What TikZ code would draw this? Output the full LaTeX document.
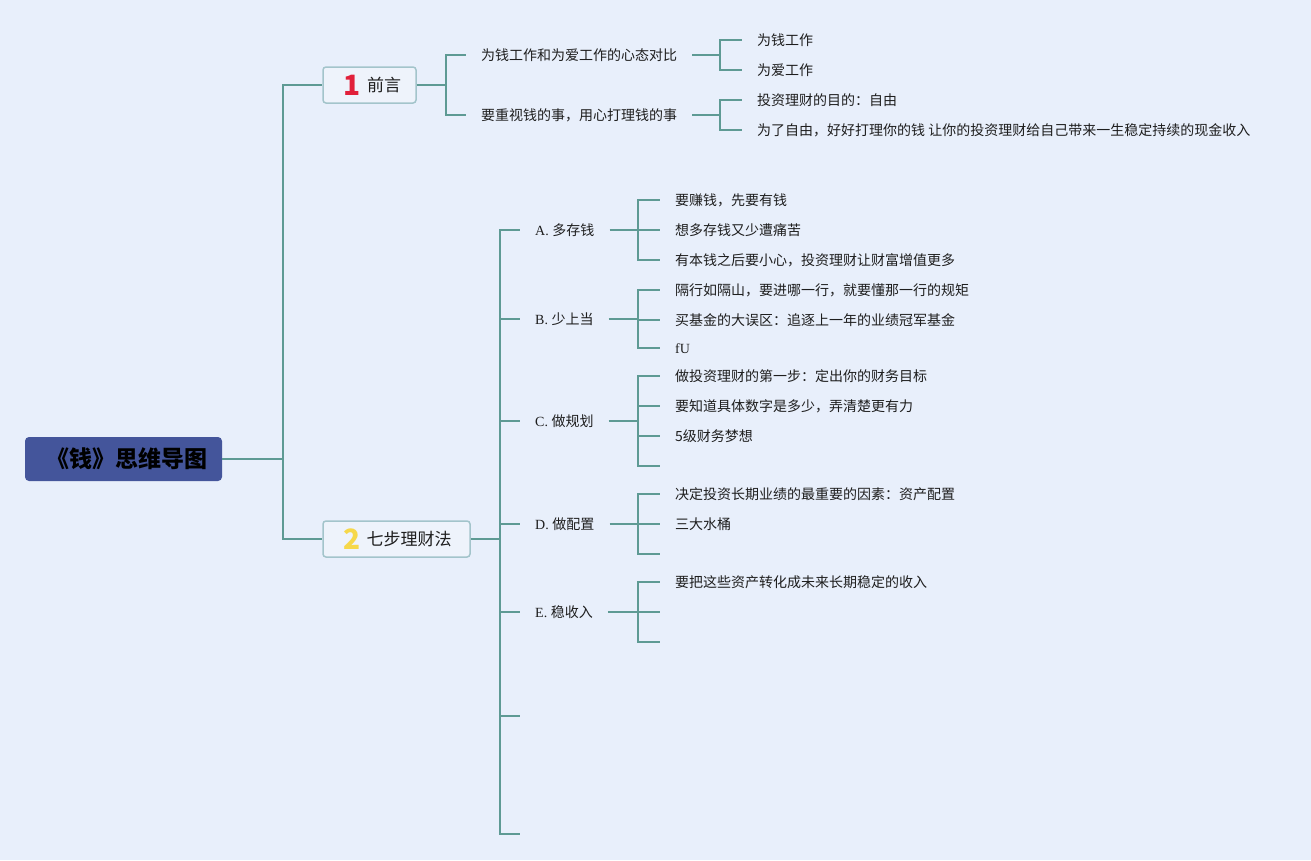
\documentclass[tikz,border=0pt]{standalone}
\usepackage{fontspec}
\setmainfont{Liberation Serif}
\newfontfamily\cjk{Noto Sans CJK SC}
\definecolor{bg}{HTML}{E8EFFB}
\definecolor{ln}{HTML}{5E9A94}
\definecolor{rootc}{HTML}{44559B}
\definecolor{boxb}{HTML}{A3C4CB}
\definecolor{boxf}{HTML}{EEF3FB}
\definecolor{one}{HTML}{E1203A}
\definecolor{two}{HTML}{F6D84A}
\definecolor{tx}{HTML}{1E1E1E}
\begin{document}
\begin{tikzpicture}[x=1pt,y=-1pt,
  conn/.style={draw=ln, line width=2pt},
  txt/.style={anchor=west, inner xsep=15pt, inner ysep=0pt, text height=11.5pt, text depth=0.5pt, font=\cjk\fontsize{14}{16}\selectfont, text=tx},
  lab/.style={txt, font=\fontsize{14}{16}\selectfont},
  rootbox/.style={fill=rootc, rounded corners=4pt, minimum width=197pt, minimum height=44pt, inner sep=0pt, font=\cjk\bfseries\fontsize{23}{25}\selectfont, text=black},
  nbox/.style={draw=boxb, line width=1.5pt, fill=boxf, rounded corners=3pt, minimum height=36pt, inner sep=0pt, text height=13pt, text depth=0pt, font=\cjk\fontsize{17}{19}\selectfont, text=tx}
]
\fill[bg] (0,0) rectangle (1311,860);
\useasboundingbox (0,0) rectangle (1311,860);

% root
\node[rootbox] (root) at (123.5,459) {\hspace{7pt}《钱》思维导图};
\coordinate (j0) at (283,459);

% main branches
\node[nbox, minimum width=93pt] (n1) at (369.5,85) {\hspace{6pt}\raisebox{-3.5pt}{\bfseries\fontsize{28}{28}\selectfont\color{one}1}\hspace{6pt}前言};
\node[nbox, minimum width=147pt] (n2) at (396.5,539) {\hspace{2pt}\raisebox{-3.5pt}{\bfseries\fontsize{28}{28}\selectfont\color{two}2}\hspace{6pt}七步理财法};

\draw[conn] (root.east) -- (j0);
\draw[conn] (j0) |- (n1.west);
\draw[conn] (j0) |- (n2.west);

% branch 1
\coordinate (j1) at (446,85);
\node[txt] (a1) at (466,55) {为钱工作和为爱工作的心态对比};
\node[txt] (a2) at (466,115) {要重视钱的事，用心打理钱的事};
\draw[conn] (n1.east) -- (j1);
\draw[conn] (j1) |- (a1.west);
\draw[conn] (j1) |- (a2.west);

\coordinate (j11) at (720,55);
\node[txt] (a11) at (742,40) {为钱工作};
\node[txt] (a12) at (742,70) {为爱工作};
\draw[conn] (a1.east) -- (j11);
\draw[conn] (j11) |- (a11.west);
\draw[conn] (j11) |- (a12.west);

\coordinate (j12) at (720,115);
\node[txt] (a21) at (742,100) {投资理财的目的：自由};
\node[txt] (a22) at (742,130) {为了自由，好好打理你的钱 让你的投资理财给自己带来一生稳定持续的现金收入};
\draw[conn] (a2.east) -- (j12);
\draw[conn] (j12) |- (a21.west);
\draw[conn] (j12) |- (a22.west);

% branch 2
\coordinate (j2) at (500,539);
\draw[conn] (n2.east) -- (j2);
\node[lab] (bA) at (520,230) {A. {\cjk 多存钱}};
\node[lab] (bB) at (520,319) {B. {\cjk 少上当}};
\node[lab] (bC) at (520,421) {C. {\cjk 做规划}};
\node[lab] (bD) at (520,524) {D. {\cjk 做配置}};
\node[lab] (bE) at (520,612) {E. {\cjk 稳收入}};
\coordinate (bF) at (520,716);
\coordinate (bG) at (520,834);
\foreach \n in {bA,bB,bC,bD,bE} \draw[conn] (j2) |- (\n.west);
\draw[conn] (j2) |- (bF);
\draw[conn] (j2) |- (bG);

% A
\coordinate (jA) at (638,230);
\node[txt] (A1) at (660,200) {要赚钱，先要有钱};
\node[txt] (A2) at (660,230) {想多存钱又少遭痛苦};
\node[txt] (A3) at (660,260) {有本钱之后要小心，投资理财让财富增值更多};
\draw[conn] (bA.east) -- (jA);
\foreach \n in {A1,A2,A3} \draw[conn] (jA) |- (\n.west);

% B
\coordinate (jB) at (638,319);
\node[txt] (B1) at (660,290) {隔行如隔山，要进哪一行，就要懂那一行的规矩};
\node[txt] (B2) at (660,320) {买基金的大误区：追逐上一年的业绩冠军基金};
\node[lab] (B3) at (660,348) {fU};
\draw[conn] (bB.east) -- (jB);
\foreach \n in {B1,B2,B3} \draw[conn] (jB) |- (\n.west);

% C
\coordinate (jC) at (638,421);
\node[txt] (C1) at (660,376) {做投资理财的第一步：定出你的财务目标};
\node[txt] (C2) at (660,406) {要知道具体数字是多少，弄清楚更有力};
\node[txt] (C3) at (660,436) {5级财务梦想};
\coordinate (C4) at (660,466);
\draw[conn] (bC.east) -- (jC);
\foreach \n in {C1,C2,C3} \draw[conn] (jC) |- (\n.west);
\draw[conn] (jC) |- (C4);

% D
\coordinate (jD) at (638,524);
\node[txt] (D1) at (660,494) {决定投资长期业绩的最重要的因素：资产配置};
\node[txt] (D2) at (660,524) {三大水桶};
\coordinate (D3) at (660,554);
\draw[conn] (bD.east) -- (jD);
\foreach \n in {D1,D2} \draw[conn] (jD) |- (\n.west);
\draw[conn] (jD) |- (D3);

% E
\coordinate (jE) at (638,612);
\node[txt] (E1) at (660,582) {要把这些资产转化成未来长期稳定的收入};
\coordinate (E2) at (660,612);
\coordinate (E3) at (660,642);
\draw[conn] (bE.east) -- (jE);
\draw[conn] (jE) |- (E1.west);
\draw[conn] (jE) |- (E2);
\draw[conn] (jE) |- (E3);
\end{tikzpicture}
\end{document}
